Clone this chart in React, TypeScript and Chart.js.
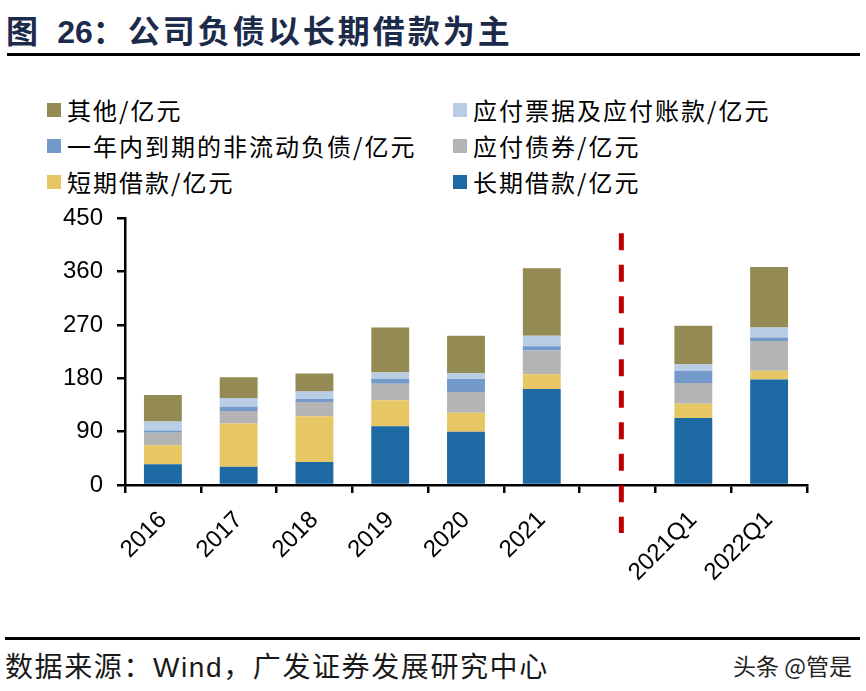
import React, { useEffect, useRef } from 'react';
import { Chart, registerables } from 'chart.js';

Chart.register(...registerables);

// ---- data ----
const categories = ['2016', '2017', '2018', '2019', '2020', '2021', '', '2021Q1', '2022Q1'];
const longTermLoans = [35, 31, 39, 99, 90, 162, null, 113, 178];
const shortTermLoans = [32, 73, 77, 44, 32, 25, null, 24, 15];
const bondsPayable = [21, 21, 24, 28, 35, 40, null, 35, 50];
const currentNonCurrentLiab = [4, 7, 5, 8, 22, 7, null, 21, 6];
const notesAccountsPayable = [15, 15, 13, 11, 10, 18, null, 11, 17];
const others = [45, 35, 30, 76, 63, 114, null, 65, 102];
const yTicks = [0, 90, 180, 270, 360, 450];
const dividerIndex = 6.05;
const dividerTopValue = 425;

const seriesNames = [
  '长期借款/亿元',
  '短期借款/亿元',
  '应付债券/亿元',
  '一年内到期的非流动负债/亿元',
  '应付票据及应付账款/亿元',
  '其他/亿元',
];
const seriesColors = ['#1D6AA5', '#E6C764', '#B4B4B4', '#7499CB', '#B9CDE5', '#948A54'];
const seriesValues = [longTermLoans, shortTermLoans, bondsPayable, currentNonCurrentLiab, notesAccountsPayable, others];

// legend in reverse stacking order, row-major across two columns
const legendOrder = [5, 4, 3, 2, 1, 0];

const tickFont = { family: "'Liberation Sans', Arial, sans-serif", size: 24 };
const cjk = "'Noto Sans CJK SC', 'Noto Sans', sans-serif";

const dividerPlugin = {
  id: 'divider',
  afterDraw(chart: any) {
    const { ctx, chartArea } = chart;
    const x = chart.scales.x.getPixelForValue(dividerIndex);
    const yTop = chart.scales.y.getPixelForValue(dividerTopValue);
    const yBottom = chartArea.bottom + 48;
    ctx.save();
    ctx.strokeStyle = '#C00000';
    ctx.lineWidth = 5;
    ctx.setLineDash([17, 14.5]);
    ctx.beginPath();
    ctx.moveTo(x, yTop);
    ctx.lineTo(x, yBottom);
    ctx.stroke();
    ctx.restore();
  },
};

export default function App() {
  const canvasRef = useRef<HTMLCanvasElement | null>(null);

  useEffect(() => {
    if (!canvasRef.current) return;
    const chart = new Chart(canvasRef.current, {
      type: 'bar',
      data: {
        labels: categories,
        datasets: seriesValues.map((vals, i) => ({
          label: seriesNames[i],
          data: vals,
          backgroundColor: seriesColors[i],
          borderWidth: 0,
          barPercentage: 0.5,
          categoryPercentage: 1.0,
        })),
      },
      options: {
        responsive: false,
        animation: false,
        devicePixelRatio: 1,
        layout: { padding: { top: 8, right: 59, bottom: 0, left: 0 } },
        plugins: { legend: { display: false }, tooltip: { enabled: false } },
        scales: {
          x: {
            stacked: true,
            grid: {
              display: true,
              drawOnChartArea: false,
              drawTicks: true,
              tickLength: 8,
              color: '#000',
              lineWidth: 2.5,
              offset: true,
            },
            border: { display: true, color: '#000', width: 2.5 },
            ticks: {
              font: tickFont,
              color: '#000',
              minRotation: 45,
              maxRotation: 45,
              autoSkip: false,
              padding: 13,
            },
            afterFit: (s: any) => {
              s.height = 115;
            },
          },
          y: {
            stacked: true,
            min: 0,
            max: 450,
            grid: {
              display: true,
              drawOnChartArea: false,
              drawTicks: true,
              tickLength: 8,
              color: '#000',
              lineWidth: 2.5,
            },
            border: { display: true, color: '#000', width: 2.5 },
            ticks: { font: tickFont, color: '#000', padding: 14, stepSize: 90 },
            afterBuildTicks: (s: any) => {
              s.ticks = yTicks.map((v) => ({ value: v }));
            },
            afterFit: (s: any) => {
              s.width = 125;
            },
          },
        },
      },
      plugins: [dividerPlugin],
    } as any);
    return () => chart.destroy();
  }, []);

  return (
    <div
      style={{
        position: 'absolute',
        left: 0,
        top: 0,
        width: 866,
        height: 691,
        background: '#fff',
        overflow: 'hidden',
      }}
    >
      <div
        style={{
          position: 'absolute',
          left: 6,
          top: 11,
          height: 36,
          lineHeight: '36px',
          fontFamily: cjk,
          fontWeight: 'bold',
          fontSize: 32,
          letterSpacing: 3,
          color: '#1C2B4A',
          whiteSpace: 'nowrap',
        }}
      >
        图 <span style={{ fontFamily: "'Liberation Sans', Arial, sans-serif", letterSpacing: 0, marginLeft: 6 }}>26</span>：公司负债以长期借款为主
      </div>
      <div style={{ position: 'absolute', left: 7, top: 53, width: 853, height: 3, background: '#000' }} />

      {legendOrder.map((si, k) => {
        const col = k % 2;
        const row = Math.floor(k / 2);
        const left = col === 0 ? 47 : 453;
        const cy = 110 + row * 36;
        return (
          <div key={si} style={{ position: 'absolute', left, top: cy - 18, height: 36, display: 'flex', alignItems: 'center', whiteSpace: 'nowrap' }}>
            <div style={{ width: 14, height: 14, background: seriesColors[si], marginRight: 6 }} />
            <span style={{ fontFamily: cjk, fontSize: 24, letterSpacing: 2, color: '#000', lineHeight: '36px' }}>
              {seriesNames[si]}
            </span>
          </div>
        );
      })}

      <canvas
        ref={canvasRef}
        width={866}
        height={410}
        style={{ position: 'absolute', left: 0, top: 190, width: 866, height: 410 }}
      />

      <div style={{ position: 'absolute', left: 5, top: 637, width: 855, height: 3, background: '#000' }} />
      <div
        style={{
          position: 'absolute',
          left: 5,
          top: 647,
          height: 36,
          lineHeight: '36px',
          fontFamily: cjk,
          fontSize: 28,
          letterSpacing: 1.6,
          color: '#1a1a1a',
          whiteSpace: 'nowrap',
        }}
      >
        数据来源：<span style={{ fontFamily: "'Liberation Sans', Arial, sans-serif" }}>Wind</span>，广发证券发展研究中心
      </div>
      <div
        style={{
          position: 'absolute',
          left: 733,
          top: 650,
          height: 30,
          lineHeight: '30px',
          fontFamily: cjk,
          fontSize: 23,
          color: '#222',
          whiteSpace: 'nowrap',
        }}
      >
        头条 @管是
      </div>
    </div>
  );
}
